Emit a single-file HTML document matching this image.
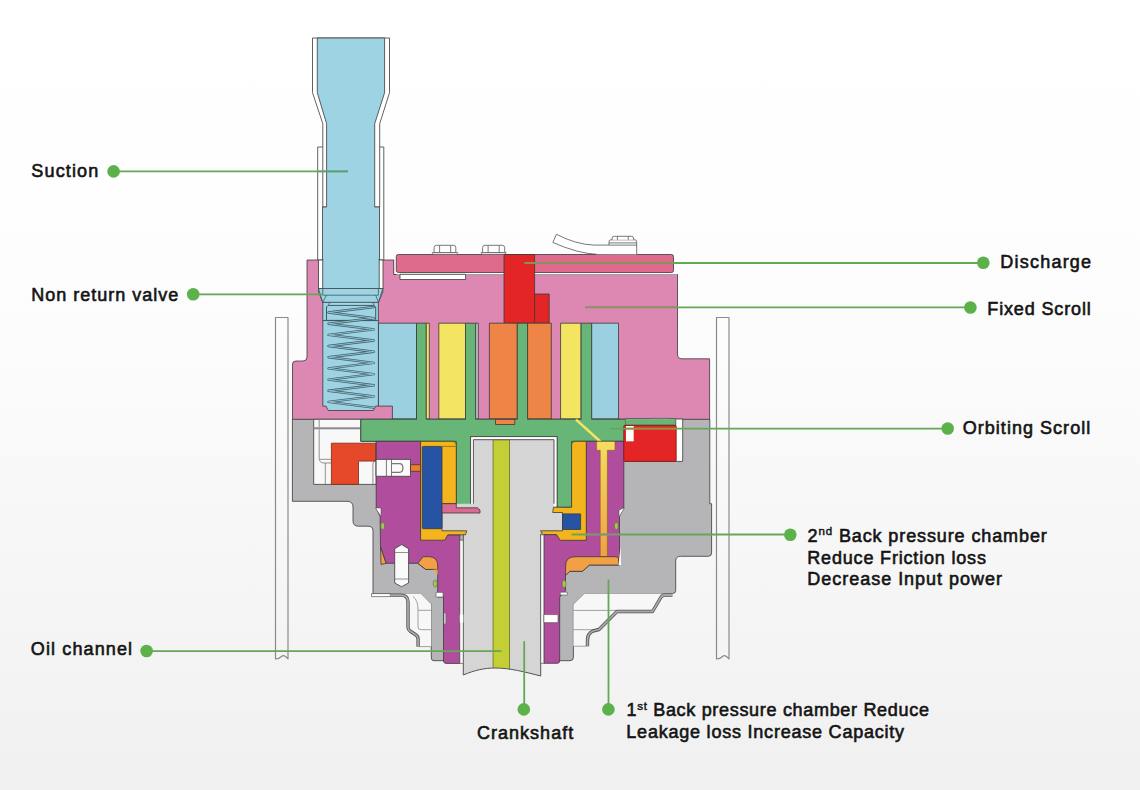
<!DOCTYPE html>
<html><head><meta charset="utf-8">
<style>
html,body{margin:0;padding:0;width:1140px;height:790px;overflow:hidden;background:#fff;}
svg{display:block;position:absolute;left:0;top:0;}
.t{font-family:"Liberation Sans",sans-serif;font-size:18px;fill:#141414;stroke:#141414;stroke-width:0.6px;}
.sup{font-size:11.5px;stroke-width:0.45px;}
</style></head><body>
<svg width="1140" height="790" viewBox="0 0 1140 790">
<defs>
<linearGradient id="bg" x1="0" y1="0" x2="0" y2="1">
<stop offset="0" stop-color="#ffffff"/>
<stop offset="0.25" stop-color="#fefefe"/>
<stop offset="0.42" stop-color="#fcfcfc"/>
<stop offset="0.68" stop-color="#f7f7f7"/>
<stop offset="1" stop-color="#f0f0f0"/>
</linearGradient>
<linearGradient id="oil" x1="0" y1="0" x2="0" y2="1">
<stop offset="0" stop-color="#f6dd5e"/>
<stop offset="1" stop-color="#f0a045"/>
</linearGradient>
</defs>
<rect x="0" y="0" width="1140" height="790" fill="url(#bg)"/>

<g id="diagram" stroke="#3a3a3a" stroke-width="0.8" stroke-linejoin="round">
<!-- shell tubes -->
<path d="M275.5,317.5 H288 V659 Q284,654 281.5,656.5 Q279,659 275.5,659 Z" fill="none" stroke="#8a8a8a" stroke-width="1.2"/>
<path d="M716.5,317.5 H729 V659 Q725,654 722.5,656.5 Q720,659 716.5,659 Z" fill="none" stroke="#8a8a8a" stroke-width="1.2"/>

<!-- suction sleeve -->
<rect x="317.7" y="147" width="66.1" height="142" fill="#fff"/>
<!-- suction tube outer -->
<path d="M312.5,38 H389.5 V92.7 L379.7,123.7 V207 H322.8 V123.7 L312.5,92.7 Z" fill="#fff"/>
<!-- blue interior -->
<path d="M317.3,38 H384.6 V92.7 L374.7,123.7 V207 H379.5 V289 H322.5 V207 H326.6 V123.7 L317.3,92.7 Z" fill="#9dd3e2"/>

<!-- fixed scroll pink body -->
<path d="M307,260 H394 V274.5 H677.5 V354 Q677.5,358.8 682,358.8 H709.6 V419.5 H292.5 V364 Q292.5,361 296,361 H303 Q307,361 307,357 Z" fill="#dc88b3"/>
<!-- tube over body (sleeve bottom) -->
<rect x="318.5" y="260" width="64.5" height="29" fill="#fff"/>
<rect x="322.7" y="259" width="56.5" height="31" fill="#9dd3e2" stroke="none"/>
<line x1="322.7" y1="259" x2="322.7" y2="289" />
<line x1="379.2" y1="259" x2="379.2" y2="289" />

<!-- cap plate -->
<path d="M394,260 V274.5 H677.5" fill="none" stroke="#3a3a3a" stroke-width="0.8"/>
<rect x="394.3" y="260" width="2" height="14" fill="#fff" stroke="none"/>
<rect x="396.3" y="272.5" width="281" height="2" fill="#fff" stroke="none"/>
<rect x="396.3" y="254.5" width="277.2" height="18" rx="2" fill="#de6b8c"/>
<rect x="400" y="274.3" width="65.6" height="5.2" fill="#fff"/>

<!-- nuts -->
<g fill="#fff" stroke="#555" stroke-width="0.8">
<path d="M432.1,252.6 L433.6,254.5 H456.3 L457.8,252.6 Z" fill="#fff" stroke="#555" stroke-width="0.7"/><path d="M434.1,252.6 V247.6 Q434.1,245.3 436.5,245.3 H453.40000000000003 Q455.8,245.3 455.8,247.6 V252.6 Z" fill="#fff" stroke="#555" stroke-width="0.8"/><path d="M439.6,245.6 V252.6 M450.7,245.6 V252.6" stroke="#555" stroke-width="0.8"/>
<path d="M480.9,252.6 L482.4,254.5 H504.8 L506.3,252.6 Z" fill="#fff" stroke="#555" stroke-width="0.7"/><path d="M482.6,252.6 V247.6 Q482.6,245.3 485.0,245.3 H502.3 Q504.7,245.3 504.7,247.6 V252.6 Z" fill="#fff" stroke="#555" stroke-width="0.8"/><path d="M488.1,245.6 V252.6 M499.2,245.6 V252.6" stroke="#555" stroke-width="0.8"/>
<!-- strap -->
<path d="M556.4,234.3 Q576,244.5 594.1,245.1 H609 V254.3 H596.8 Q578,253.5 552.9,242.5 Z" fill="#fff" stroke="none"/>
<path d="M552.9,242.5 L556.4,234.3 Q576,244.5 594.1,245.1 H609 M552.9,242.5 Q578,253.5 596.8,254.3" fill="none"/>
<path d="M609,254.3 V245.1 H636.7 V254.3 Z" fill="#fff" stroke="none"/>
<path d="M609,245.1 V241.7 Q609,239.8 611,239.8 H634.7 Q636.7,239.8 636.7,241.7 V254.3 M609,242.9 H636.7 M609,245.1 H636.7"/>
<path d="M612.1,239.8 V238 Q612.1,236.3 614.5,236.3 H631.2 Q633.6,236.3 633.6,238 V239.8 M617.4,236.5 V239.8 M628.3,236.5 V239.8"/>
</g>

<!-- discharge red -->
<path d="M504,254.5 H534.6 V294 H549.2 V323.3 H504 Z" fill="#e32526"/>
<line x1="534.6" y1="294" x2="534.6" y2="323.3"/>

<!-- vanes -->
<rect x="378.3" y="323.2" width="38.2" height="95.8" fill="#9ad0e0"/>
<rect x="416.5" y="323.2" width="9.8" height="95.8" fill="#67b677"/>
<rect x="426.3" y="323.2" width="3" height="95.8" fill="#f3e462"/>
<rect x="438.8" y="323.2" width="26.7" height="95.8" fill="#f3e462"/>
<rect x="465.5" y="323.2" width="10.2" height="95.8" fill="#67b677"/>
<rect x="475.7" y="323.2" width="2.6" height="95.8" fill="#c8c8c8"/>
<rect x="489.4" y="323.2" width="27.9" height="95.8" fill="#ef8447"/>
<rect x="517.3" y="323.2" width="10.3" height="95.8" fill="#67b677"/>
<rect x="527.6" y="323.2" width="23.7" height="95.8" fill="#ef8447"/>
<rect x="560.6" y="323.2" width="20.5" height="95.8" fill="#f3e462"/>
<rect x="581.1" y="323.2" width="10.6" height="95.8" fill="#67b677"/>
<rect x="591.7" y="323.2" width="26.8" height="95.8" fill="#9ad0e0"/>

<!-- spring housing -->
<rect x="372" y="406.1" width="20.4" height="12.9" fill="#dc88b3" stroke="none"/><path d="M378.4,406.1 H392.4 V419" fill="none"/>
<path d="M322.8,302 H378.4 V406.1 H375.5 L373.3,410.5 H328.3 L326,406.1 H322.8 Z" fill="#9dd3e2"/>
<path d="M318.5,288.5 H382.8 V292 L378.4,302.3 H322.8 L318.5,292 Z" fill="#9dd3e2"/>
<path d="M322.8,288.5 V295.2 H378.4 V288.5 M318.5,288.5 L322.5,302 M382.8,288.5 L378.6,302 M326.5,295.2 L322.8,302 M375.7,295.2 L378.4,302" fill="none" stroke="#3a5a64" stroke-width="0.8"/>
<path d="M328.5,305.4 Q328.5,302.5 331,302.5 H371.5 Q374,302.5 374,305.4" fill="#a8d8e6" stroke="#3a5a64" stroke-width="0.7"/>
<path d="M326.5,307 L328,305.4 H374 L375.7,307 V320.4 H326.5 Z" fill="#9dd3e2" stroke="#3a5a64" stroke-width="1"/>
<line x1="322.8" y1="320.6" x2="378.4" y2="320.6" stroke="#3a5a64" stroke-width="1"/>
<path d="M373.8,307.0 L328.5,312.5 L373.8,318.2 M373.8,318.2 L328.5,323.7 L373.8,329.4 M373.8,329.4 L328.5,334.9 L373.8,340.5 M373.8,340.5 L328.5,346.0 L373.8,351.7 M373.8,351.7 L328.5,357.2 L373.8,362.9 M373.8,362.9 L328.5,368.4 L373.8,374.1 M373.8,374.1 L328.5,379.6 L373.8,385.3 M373.8,385.3 L328.5,390.8 L373.8,396.4 M373.8,396.4 L328.5,401.9 L373.8,407.6 " fill="none" stroke="#3e5e68" stroke-width="2.4" stroke-linecap="round" stroke-linejoin="round"/>
<path d="M373.8,307.0 L328.5,312.5 L373.8,318.2 M373.8,318.2 L328.5,323.7 L373.8,329.4 M373.8,329.4 L328.5,334.9 L373.8,340.5 M373.8,340.5 L328.5,346.0 L373.8,351.7 M373.8,351.7 L328.5,357.2 L373.8,362.9 M373.8,362.9 L328.5,368.4 L373.8,374.1 M373.8,374.1 L328.5,379.6 L373.8,385.3 M373.8,385.3 L328.5,390.8 L373.8,396.4 M373.8,396.4 L328.5,401.9 L373.8,407.6 " fill="none" stroke="#a6d6e4" stroke-width="0.8" stroke-linecap="round" stroke-linejoin="round"/>

<!-- grey frame -->
<path d="M292.4,419.3 H709.8 V503.7 H711.6 V553 Q711.6,556.3 708.3,556.3 H680.5 Q675.7,556.3 675.7,561 V590.5 Q675.7,593.5 672.5,593.5 H584.5 L573.4,604.4 V657.5 Q573.4,660.7 570,660.7 H434 Q431.3,660.7 431.3,658 V604.2 L420.7,593.6 H373 V531 Q373,526.2 368,526.2 H358.5 Q353,526.2 353,521 V507 Q353,501.3 347,501.3 H292.4 Z" fill="#b5b5b7"/>
<!-- brackets -->
<path d="M390.3,593.6 H420.7 L431.3,604.2 V646.8 H419.6 V636 L409.5,628 V603 Q409.5,596.6 403,596.6 H390.3 Z" fill="#f7f7f7" stroke="none"/>
<rect x="371.5" y="593.6" width="18.8" height="3" fill="#fff" stroke="#555" stroke-width="0.7"/>
<path d="M413,596.6 Q418,600 418,610 V627 Q418,629.7 421,629.7 H431.3 M418,610.3 H431.3 M419.6,646.6 H431.3" fill="none" stroke="#8a8a8a" stroke-width="0.8"/>
<path d="M390.3,595.1 H401 Q408,595.1 408,602 V627 Q408,629.5 410,631 L416,635 Q418.1,636.5 418.1,639 V646.8" fill="none" stroke="#555" stroke-width="3.4" stroke-linejoin="round"/>
<path d="M390.3,595.1 H401 Q408,595.1 408,602 V627 Q408,629.5 410,631 L416,635 Q418.1,636.5 418.1,639 V646.8" fill="none" stroke="#a8a8a8" stroke-width="1.8" stroke-linejoin="round"/>
<path d="M584.5,593.5 H672.5 V596.6 H665 L653.4,612.3 H617.6 L598.7,631.3 Q586.6,636 586.6,642 V646.2 H573.4 V604.4 Z" fill="#f7f7f7" stroke="none"/>
<path d="M573.4,610.4 H617.6 M573.4,629.7 H600 M573.4,646.2 H586.6" fill="none" stroke="#8a8a8a" stroke-width="0.8"/>
<path d="M672.4,595 H665 Q662,595 660.5,598 L652.5,611.5 H617 L599,629.5 L593,631 Q587.5,633.5 587.5,640 V646.2" fill="none" stroke="#555" stroke-width="3.4" stroke-linejoin="round"/>
<path d="M672.4,595 H665 Q662,595 660.5,598 L652.5,611.5 H617 L599,629.5 L593,631 Q587.5,633.5 587.5,640 V646.2" fill="none" stroke="#a8a8a8" stroke-width="1.8" stroke-linejoin="round"/>
<!-- cavity -->
<path d="M313.7,419.3 H360.8 V441.3 H376.2 V484.4 H313.7 Z" fill="#f8f8f8"/>
<path d="M319.2,419.3 V427.3 M319.2,429.3 V458 Q319.2,463 324,463 H331.4 M320,459.3 H331.4 M325.3,463 V484.4 M372.9,484.4 V464 Q372.9,461.5 375,461.1" fill="none" stroke="#777" stroke-width="0.8"/>
<rect x="313.7" y="427.3" width="47.1" height="2" fill="#8a8a8a" stroke="none"/>
<path d="M331.4,443.2 H375.7 V461.1 H358.5 V484.4 H331.4 Z" fill="#e5492a" stroke="#7a2a10"/>

<!-- green orbiting scroll -->
<path d="M360.8,419.2 H675.8 V425.3 H625.7 V441.3 H571.6 V507.3 H557.1 V436.6 H470.6 V507.3 H456.3 V441.3 H360.8 Z" fill="#67b677"/>
<rect x="416.95" y="417.5" width="8.90" height="3.5" fill="#67b677" stroke="none"/><rect x="465.95" y="417.5" width="9.30" height="3.5" fill="#67b677" stroke="none"/><rect x="517.75" y="417.5" width="9.40" height="3.5" fill="#67b677" stroke="none"/><rect x="581.55" y="417.5" width="9.70" height="3.5" fill="#67b677" stroke="none"/>
<rect x="495.5" y="419.4" width="19.3" height="5.1" fill="#ef8447"/>
<rect x="650.8" y="418.3" width="19.3" height="1.8" fill="#f4f4f4" stroke="#555" stroke-width="0.6"/>
<path d="M576,419.6 L600.4,441.5" stroke="#f3e462" stroke-width="2.6"/>

<!-- shaft -->
<rect x="470.6" y="436.6" width="86.5" height="70.7" fill="#fff"/>
<clipPath id="shc"><path d="M473.4,439.7 H554 V507.3 H562.5 V530.8 H540.7 V676 C525,672 510,668 495,668 C485,668 475,670 463.3,675 V530.8 H442 V503.7 H473.4 Z"/></clipPath>
<path d="M473.4,439.7 H554 V507.3 H562.5 V530.8 H540.7 V676 C525,672 510,668 495,668 C485,668 475,670 463.3,675 V530.8 H442 V503.7 H473.4 Z" fill="#d5d5d6" stroke="none"/>
<rect x="493.1" y="439.7" width="16.4" height="240" fill="#c3cf35" clip-path="url(#shc)" stroke="#6a7020" stroke-width="0.8"/>
<path d="M473.4,503.7 V439.7 H554 V503.7 M463.3,534 V675  M540.7,534 V676 C525,672 510,668 495,668 C485,668 475,670 463.3,675" fill="none" stroke="#555" stroke-width="1"/>

<!-- magenta left -->
<path d="M376.2,441.3 H420.6 V534.8 H459.8 V663.4 H446 Q443.5,663.4 443.5,661 V597 H437.7 V569.4 H425.7 L417.8,563.3 H386 L380.5,547 L380.1,516.5 L376.2,508 Z" fill="#b04d9d"/>
<!-- magenta right -->
<path d="M543.9,534.6 H586.3 V441.3 H623.8 V507 L619.5,516 V565 H589.4 L582.5,571.3 H569.8 L565.5,575.5 V590.9 L559.7,597 V661 Q559.7,663.3 557,663.3 H543.9 Z" fill="#b04d9d"/>

<!-- yellow L left -->
<path d="M420.6,441.3 H452 Q456.3,441.3 456.3,445.5 V503.7 H442 V530.8 H466.7 L465.5,534.8 H447.8 L444.7,540.2 H420.6 Z" fill="#f4b41e"/>
<rect x="422.3" y="446.4" width="19.7" height="82.3" rx="1" fill="#2653a3"/>
<line x1="442" y1="446.4" x2="456.3" y2="446.4" stroke="#8a6a10" stroke-width="0.8"/>
<path d="M442,503.7 H456.3 V507.8 H477.5 L480,510 V513 H442 Z" fill="#d96b92"/>
<!-- yellow L right -->
<path d="M571.6,445.5 Q571.6,441.3 576,441.3 H586.3 V540.3 H560.3 L556.5,534.6 H543 L540.5,530.8 H562.5 V512.5 H552.7 L553.5,507.3 H571.6 Z" fill="#f4b41e"/>
<rect x="562.5" y="513.9" width="18.1" height="15.6" fill="#2653a3"/>

<!-- oil channel T -->
<path d="M596.6,441.5 H615 V450.3 H607.4 V556.7 H600.2 V450.3 H596.6 Z" fill="url(#oil)" stroke="#8a5a20" stroke-width="0.6"/>
<!-- orange seals -->
<path d="M575,556.7 H616 Q618.5,556.7 618.5,559 V565 H589.4 L582.5,571.3 H569.8 L565.6,575.5 V566 Q565.6,556.7 575,556.7 Z" fill="#f29f45"/>
<path d="M417.8,563.3 L423.2,556.7 H429.5 Q437.2,557 437.7,565 V569.4 H425.7 Z" fill="#f29f45"/>
<path d="M380.5,547 L386,563.3 L381,564.5 Z" fill="#f29f45"/>
<path d="M433.5,569.4 H437.7 V575 Z" fill="#f29f45" stroke="none"/>

<!-- red block right -->
<rect x="625.7" y="419" width="57" height="42.4" fill="#fff"/>
<rect x="625.7" y="419.2" width="50.1" height="6.1" fill="#67b677" stroke="none"/>
<path d="M625.7,425.3 H675.8 V419.2" fill="none" stroke="#3a3a3a" stroke-width="0.7"/>
<rect x="623.8" y="425.3" width="52.4" height="36.1" rx="1" fill="#e32526" stroke="#7a1a10"/>
<rect x="626" y="426" width="7.7" height="15.3" fill="#fff" stroke="none"/>

<!-- shaft gaps -->
<rect x="459.8" y="540.2" width="3.5" height="123.2" fill="#fafafa" stroke="#555" stroke-width="0.7"/>
<rect x="540.7" y="534.8" width="3.2" height="128.5" fill="#fafafa" stroke="#555" stroke-width="0.7"/>
<rect x="543.9" y="614.6" width="14.1" height="8" fill="#fff" stroke="#555" stroke-width="0.6"/>
<rect x="459.8" y="614.6" width="3.5" height="8" fill="#fff" stroke="none"/>
<rect x="444" y="613" width="1.8" height="11" fill="#eee" stroke="#555" stroke-width="0.5"/>

<!-- bolt -->
<path d="M394.7,548.7 L401.6,544.6 L408.6,548.7 V583 L401.6,586.7 L394.7,583 Z" fill="#fafafa"/>
<path d="M394.7,552.5 H408.6 M394.7,579 H408.6" stroke="#666" stroke-width="0.7"/>
<!-- pin left -->
<rect x="376.1" y="459.4" width="34.4" height="16.9" fill="#fafafa"/>
<path d="M386.4,459.4 V476.3 M391.5,459.4 V476.3" stroke="#555" stroke-width="0.8"/>
<path d="M391.5,463.7 H399.5 Q402.9,463.7 402.9,468 Q402.9,472.3 399.5,472.3 H391.5" fill="none" stroke="#777" stroke-width="1.2"/>
<rect x="410.5" y="464.7" width="10.1" height="6.6" fill="#ef7d2a"/>
<!-- notches and o-rings -->
<path d="M375.5,508 L381,508 L381,516.5 Z" fill="#fff" stroke="#555" stroke-width="0.6"/>
<path d="M624.5,507.8 L619,510 L619,517 Z" fill="#fff" stroke="#555" stroke-width="0.6"/>
<path d="M620.5,546.5 L618.5,565 L621,565 Z" fill="#fff" stroke="none"/>
<rect x="436" y="592.4" width="7" height="4.6" fill="#fff" stroke="#555" stroke-width="0.6"/>
<rect x="560.3" y="592.2" width="7" height="2.8" fill="#fff" stroke="#555" stroke-width="0.6"/>
<g fill="#a7c64a" stroke="#555" stroke-width="0.5">
<ellipse cx="382.7" cy="526" rx="2" ry="3.6"/>
<ellipse cx="435.2" cy="583.5" rx="2" ry="3.6"/>
<ellipse cx="616.3" cy="526" rx="2" ry="3.6"/>
<ellipse cx="564.1" cy="583.9" rx="2" ry="3.6"/>
</g>
</g>

<!-- leader lines -->
<g stroke="#66a656" stroke-width="1.8" fill="none">
<line x1="113.6" y1="171.4" x2="348" y2="171.4"/>
<line x1="193.2" y1="294.3" x2="323" y2="294.3"/>
<line x1="524.5" y1="263" x2="983.3" y2="263"/>
<line x1="585" y1="307.3" x2="970.4" y2="307.3"/>
<line x1="610" y1="428.6" x2="947.7" y2="428.6"/>
<line x1="571.6" y1="534.5" x2="790.3" y2="534.5"/>
<line x1="146.6" y1="651.1" x2="501.4" y2="651.1"/>
<line x1="524.2" y1="641.2" x2="524.2" y2="709.4"/>
<line x1="608.5" y1="579.6" x2="608.5" y2="709.4"/>
</g>
<g stroke-width="1.6" fill="none">
<line x1="524.5" y1="263" x2="673.5" y2="263" stroke="#948a62"/>
<line x1="585" y1="307.3" x2="677.5" y2="307.3" stroke="#948a68"/>
<line x1="625.7" y1="428.6" x2="676.2" y2="428.6" stroke="#a88440"/>
<line x1="586.3" y1="534.5" x2="619.5" y2="534.5" stroke="#8c8a84"/>
<line x1="317.3" y1="171.4" x2="348" y2="171.4" stroke="#5a9e7e"/>
</g>
<g fill="#5db14b">
<circle cx="113.6" cy="171.4" r="6.3"/>
<circle cx="193.2" cy="294.3" r="6.3"/>
<circle cx="983.3" cy="262.8" r="6.3"/>
<circle cx="970.4" cy="307.5" r="6.3"/>
<circle cx="947.7" cy="428.5" r="6.3"/>
<circle cx="790.3" cy="534.7" r="6.3"/>
<circle cx="146.6" cy="651" r="6.3"/>
<circle cx="523.8" cy="709.4" r="6.3"/>
<circle cx="608.4" cy="709.4" r="6.3"/>
</g>

<!-- labels -->
<text class="t" x="31.3" y="176.5" textLength="67" lengthAdjust="spacing">Suction</text>
<text class="t" x="31.3" y="300.8" textLength="147" lengthAdjust="spacing">Non return valve</text>
<text class="t" x="30.8" y="655.3" textLength="101.3" lengthAdjust="spacing">Oil channel</text>
<text class="t" x="1000.3" y="268.1" textLength="90.8" lengthAdjust="spacing">Discharge</text>
<text class="t" x="987.3" y="315" textLength="103.5" lengthAdjust="spacing">Fixed Scroll</text>
<text class="t" x="962.7" y="434.3" textLength="127.5" lengthAdjust="spacing">Orbiting Scroll</text>
<text class="t" x="807.5" y="541.6" textLength="239.3" lengthAdjust="spacing">2<tspan class="sup" dy="-6.5">nd</tspan><tspan dy="6.5"> Back pressure chamber</tspan></text>
<text class="t" x="807.3" y="563.7" textLength="178.6" lengthAdjust="spacing">Reduce Friction loss</text>
<text class="t" x="807.3" y="585.1" textLength="194.7" lengthAdjust="spacing">Decrease Input power</text>
<text class="t" x="477" y="738.5" textLength="96.2" lengthAdjust="spacing">Crankshaft</text>
<text class="t" x="626.5" y="716" textLength="302.4" lengthAdjust="spacing">1<tspan class="sup" dy="-6.5">st</tspan><tspan dy="6.5"> Back pressure chamber Reduce</tspan></text>
<text class="t" x="626.3" y="738" textLength="277.8" lengthAdjust="spacing">Leakage loss Increase Capacity</text>
</svg>
</body></html>
